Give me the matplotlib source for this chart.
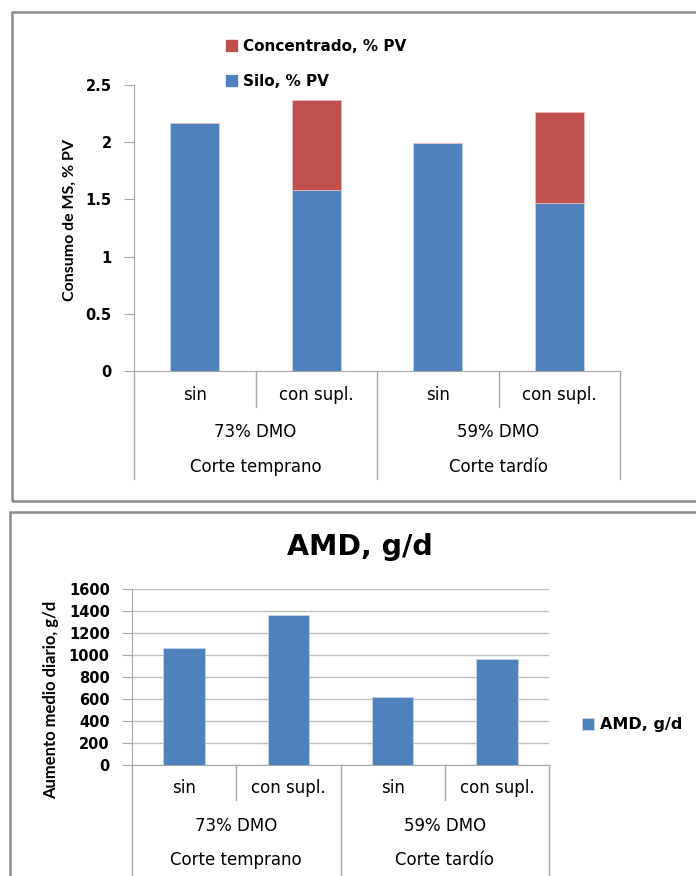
import matplotlib.pyplot as plt
from matplotlib.patches import Rectangle, Patch

# Consumo de materia seca y aumento medio diario por tratamiento
tratamientos = ['sin', 'con supl.', 'sin', 'con supl.']
digestibilidad = ['73% DMO', '59% DMO']
cortes = ['Corte temprano', 'Corte tardío']
silo = [2.17, 1.58, 1.99, 1.47]
concentrado = [0.0, 0.79, 0.0, 0.79]
amd = [1060, 1360, 620, 960]

azul = '#4F81BD'
rojo = '#C0504D'
gris = '#A6A6A6'

plt.rcParams['font.family'] = ['DejaVu Sans']

W, H = 696, 876
fig = plt.figure(figsize=(W / 100, H / 100), dpi=100)


def px_axes(left, top, right, bottom):
    return fig.add_axes([left / W, 1 - bottom / H, (right - left) / W, (bottom - top) / H])


def marco(x0, y0, x1, y1):
    fig.patches.append(Rectangle((x0 / W, 1 - y1 / H), (x1 - x0) / W, (y1 - y0) / H,
                                 transform=fig.transFigure, fill=False,
                                 edgecolor='#8C8C8C', linewidth=1.8))


def ejes_categorias(ax, alto_px, filas, corto, largo):
    # etiquetas en tres niveles bajo el eje x, con divisiones verticales
    x = list(range(len(tratamientos)))
    for xi, t in zip(x, tratamientos):
        ax.annotate(t, xy=(xi, 0), xycoords=('data', 'axes fraction'),
                    xytext=(0, -filas[0]), textcoords='offset pixels',
                    ha='center', va='center', fontsize=12)
    for gi, (d, c) in enumerate(zip(digestibilidad, cortes)):
        ax.annotate(d, xy=(2 * gi + 0.5, 0), xycoords=('data', 'axes fraction'),
                    xytext=(0, -filas[1]), textcoords='offset pixels',
                    ha='center', va='center', fontsize=12)
        ax.annotate(c, xy=(2 * gi + 0.5, 0), xycoords=('data', 'axes fraction'),
                    xytext=(0, -filas[2]), textcoords='offset pixels',
                    ha='center', va='center', fontsize=12)
    tr = ax.get_xaxis_transform()
    for xs in [-0.5, 1.5, 3.5]:
        ax.plot([xs, xs], [0, -largo / alto_px], transform=tr, color=gris,
                linewidth=1, clip_on=False)
    for xs in [0.5, 2.5]:
        ax.plot([xs, xs], [0, -corto / alto_px], transform=tr, color=gris,
                linewidth=1, clip_on=False)
    ax.set_xlim(-0.5, 3.5)
    ax.set_xticks([])


def estilo(ax, size, pad):
    for s in ['top', 'right']:
        ax.spines[s].set_visible(False)
    ax.spines['left'].set_color(gris)
    ax.spines['bottom'].set_color(gris)
    ax.tick_params(axis='y', length=7, color=gris, labelsize=size, pad=pad)
    for lab in ax.get_yticklabels():
        lab.set_fontweight('bold')


# Panel superior: consumo de MS
marco(12, 12, 720, 501)
ax1 = px_axes(134, 85, 620, 371)
x = range(len(tratamientos))
ax1.bar(x, silo, width=0.4, color=azul, edgecolor='#C5D5EA', linewidth=0.6,
        label='Silo, % PV')
ax1.bar(x, concentrado, width=0.4, bottom=silo, color=rojo, edgecolor='#E8BDBC',
        linewidth=0.6, label='Concentrado, % PV')
ax1.set_ylim(0, 2.5)
ax1.set_yticks([0, 0.5, 1, 1.5, 2, 2.5])
ax1.set_yticklabels(['0', '0.5', '1', '1.5', '2', '2.5'])
estilo(ax1, 10.5, 9)
fig.text(70 / W, 1 - 220 / H, 'Consumo de MS, % PV', rotation=90, ha='center',
         va='center', fontsize=11.5, fontweight='bold', family=['Lato', 'DejaVu Sans'])
ejes_categorias(ax1, 286, [24, 61, 96], 36, 108)
h = [Patch(color=rojo), Patch(color=azul)]
ax1.legend(h, ['Concentrado, % PV', 'Silo, % PV'], loc='upper left',
           bbox_to_anchor=(226 / W, 1 - 39 / H), bbox_transform=fig.transFigure,
           frameon=False, borderpad=0, borderaxespad=0, handlelength=0.75,
           handleheight=0.75, handletextpad=0.35, labelspacing=1.3,
           prop={'weight': 'bold', 'size': 11})

# Panel inferior: aumento medio diario
marco(10, 512, 720, 900)
ax2 = px_axes(132, 589, 549, 765)
ax2.bar(x, amd, width=0.4, color=azul, edgecolor='#C5D5EA', linewidth=0.6,
        label='AMD, g/d', zorder=3)
ax2.set_ylim(0, 1600)
ax2.set_yticks(range(0, 1601, 200))
ax2.yaxis.grid(True, color='#BFBFBF', linewidth=1)
ax2.set_axisbelow(True)
estilo(ax2, 10.5, 9)
fig.text(51 / W, 1 - 700 / H, 'Aumento medio diario, g/d', rotation=90, ha='center',
         va='center', fontsize=12, fontweight='bold', family=['Lato', 'DejaVu Sans'])
ejes_categorias(ax2, 176, [23, 61, 95], 35, 130)
ax2.legend(loc='center left', bbox_to_anchor=(582 / W, 1 - 725 / H),
           bbox_transform=fig.transFigure, frameon=False, borderpad=0,
           borderaxespad=0, handlelength=0.75, handleheight=0.75, handletextpad=0.35,
           prop={'weight': 'bold', 'size': 11.5})
fig.text(360 / W, 1 - 555 / H, 'AMD, g/d', ha='center', va='baseline',
         fontsize=20.5, fontweight='bold')

fig.savefig('out.png', dpi=100)
